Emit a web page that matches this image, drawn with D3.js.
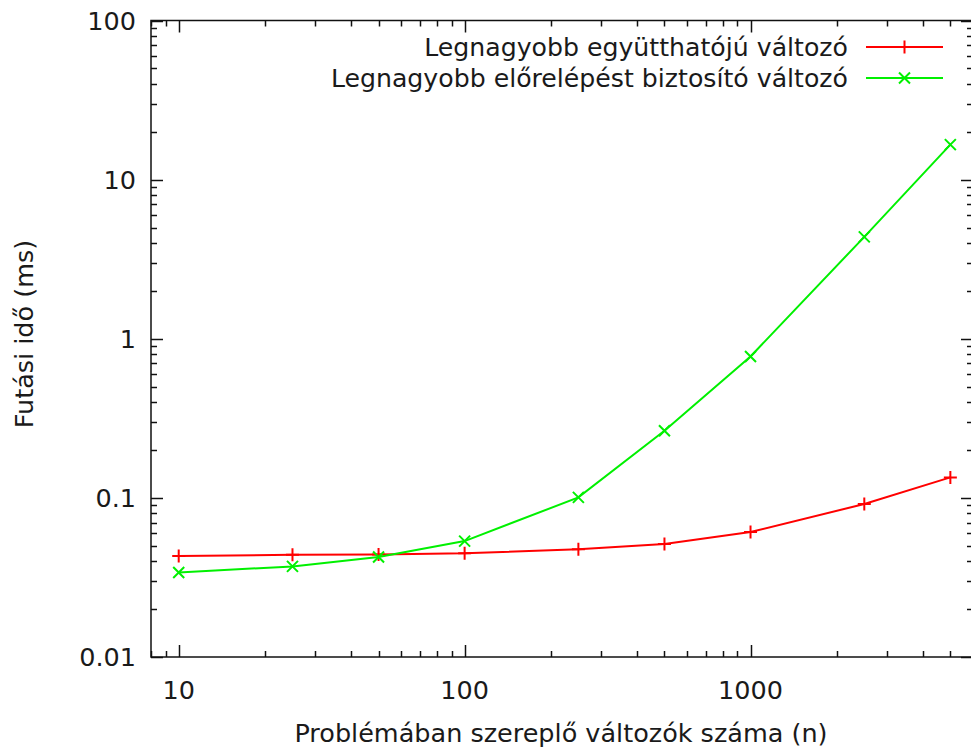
<!DOCTYPE html>
<html>
<head>
<meta charset="utf-8">
<script src="https://cdn.jsdelivr.net/npm/d3@7/dist/d3.min.js"></script>
<style>
  html, body { margin: 0; padding: 0; background: #fff; }
  svg { display: block; }
  text { font-family: "DejaVu Sans", Verdana, sans-serif; fill: #1a1a1a; }
</style>
</head>
<body>
<svg id="chart" width="971" height="751"></svg>
<script>
// Problem sizes (number of variables)
const sizes = [10, 25, 50, 100, 250, 500, 1000, 2500, 5000];
// Running time in ms, pivot rule: largest coefficient
const largestCoef = [0.0431, 0.0439, 0.0441, 0.0448, 0.0475, 0.0513, 0.061, 0.0915, 0.1345];
// Running time in ms, pivot rule: largest improvement
const largestGain = [0.0340, 0.0371, 0.0425, 0.0535, 0.1007, 0.264, 0.774, 4.37, 16.6];
const seriesNames = ["Legnagyobb együtthatójú változó", "Legnagyobb előrelépést biztosító változó"];
const xTickValues = [10, 100, 1000];
const xTickLabels = ["10", "100", "1000"];
const yTickValues = [0.01, 0.1, 1, 10, 100];
const yTickLabels = ["0.01", "0.1", "1", "10", "100"];
const xTitle = "Problémában szereplő változók száma (n)";
const yTitle = "Futási idő (ms)";

const svg = d3.select("#chart");
const L = 151, R = 973, T = 20.5, B = 657;
const x = d3.scaleLog().domain([8, 6000]).range([L, R]);
const y = d3.scaleLog().domain([0.01, 100]).range([B, T]);

const majorLen = 12, minorLen = 6;
const axisG = svg.append("g").attr("stroke", "#111").attr("stroke-width", 1.5).attr("fill", "none");

// Minor ticks (every 1..9 multiple of each decade) on all four sides
const xMinor = x.ticks().filter(v => !xTickValues.includes(v));
const yMinor = y.ticks().filter(v => !yTickValues.includes(v));
xMinor.forEach(v => {
  const px = Math.round(x(v)) + 0.5;
  axisG.append("line").attr("x1", px).attr("x2", px).attr("y1", B).attr("y2", B - minorLen);
  axisG.append("line").attr("x1", px).attr("x2", px).attr("y1", T).attr("y2", T + minorLen);
});
xTickValues.forEach(v => {
  const px = Math.round(x(v)) + 0.5;
  axisG.append("line").attr("x1", px).attr("x2", px).attr("y1", B).attr("y2", B - majorLen);
  axisG.append("line").attr("x1", px).attr("x2", px).attr("y1", T).attr("y2", T + majorLen);
});
yMinor.forEach(v => {
  const py = Math.round(y(v)) + 0.5;
  axisG.append("line").attr("x1", L).attr("x2", L + minorLen).attr("y1", py).attr("y2", py);
  axisG.append("line").attr("x1", R).attr("x2", R - minorLen).attr("y1", py).attr("y2", py);
});
yTickValues.forEach(v => {
  const py = Math.round(y(v)) + 0.5;
  axisG.append("line").attr("x1", L).attr("x2", L + majorLen).attr("y1", py).attr("y2", py);
  axisG.append("line").attr("x1", R).attr("x2", R - majorLen).attr("y1", py).attr("y2", py);
});

// Plot border
axisG.append("rect").attr("x", L).attr("y", T).attr("width", R - L).attr("height", B - T);

// Tick labels
const fontSize = 25.5;
const legendFontSize = 25.2;
svg.append("g").selectAll("text").data(xTickValues).join("text")
  .attr("x", d => x(d)).attr("y", 699)
  .attr("text-anchor", "middle").attr("font-size", fontSize)
  .text((d, i) => xTickLabels[i]);
svg.append("g").selectAll("text").data(yTickValues).join("text")
  .attr("x", 136).attr("y", d => y(d)).attr("dy", "0.36em")
  .attr("text-anchor", "end").attr("font-size", fontSize)
  .text((d, i) => yTickLabels[i]);

// Axis titles
svg.append("text").attr("x", 561).attr("y", 742).attr("text-anchor", "middle")
  .attr("font-size", fontSize).text(xTitle);
svg.append("text").attr("transform", "translate(33,334) rotate(-90)")
  .attr("text-anchor", "middle").attr("font-size", fontSize).text(yTitle);

// Markers
const plusPath = s => `M${-s},0H${s}M0,${-s}V${s}`;
const crossPath = s => `M${-s},${-s}L${s},${s}M${-s},${s}L${s},${-s}`;

const series = [
  { name: seriesNames[0], values: largestCoef, color: "#ff0000", marker: plusPath(6.5) },
  { name: seriesNames[1], values: largestGain, color: "#00f000", marker: crossPath(5.5) }
];

const line = d3.line().x(d => x(d[0])).y(d => y(d[1]));
const plotG = svg.append("g");
series.forEach(s => {
  const pts = sizes.map((n, i) => [n, s.values[i]]);
  plotG.append("path").datum(pts).attr("d", line)
    .attr("fill", "none").attr("stroke", s.color).attr("stroke-width", 2);
  plotG.append("g").selectAll("path").data(pts).join("path")
    .attr("transform", d => `translate(${x(d[0])},${y(d[1])})`)
    .attr("d", s.marker).attr("fill", "none").attr("stroke", s.color).attr("stroke-width", 2);
});

// Legend
const legend = svg.append("g");
series.forEach((s, i) => {
  const ly = 47 + i * 31;
  legend.append("text").attr("x", 848).attr("y", ly).attr("dy", "0.36em")
    .attr("text-anchor", "end").attr("font-size", legendFontSize).text(s.name);
  legend.append("line").attr("x1", 866).attr("x2", 943).attr("y1", ly).attr("y2", ly)
    .attr("stroke", s.color).attr("stroke-width", 2);
  legend.append("path").attr("transform", `translate(904.5,${ly})`).attr("d", s.marker)
    .attr("fill", "none").attr("stroke", s.color).attr("stroke-width", 2);
});
</script>
</body>
</html>
